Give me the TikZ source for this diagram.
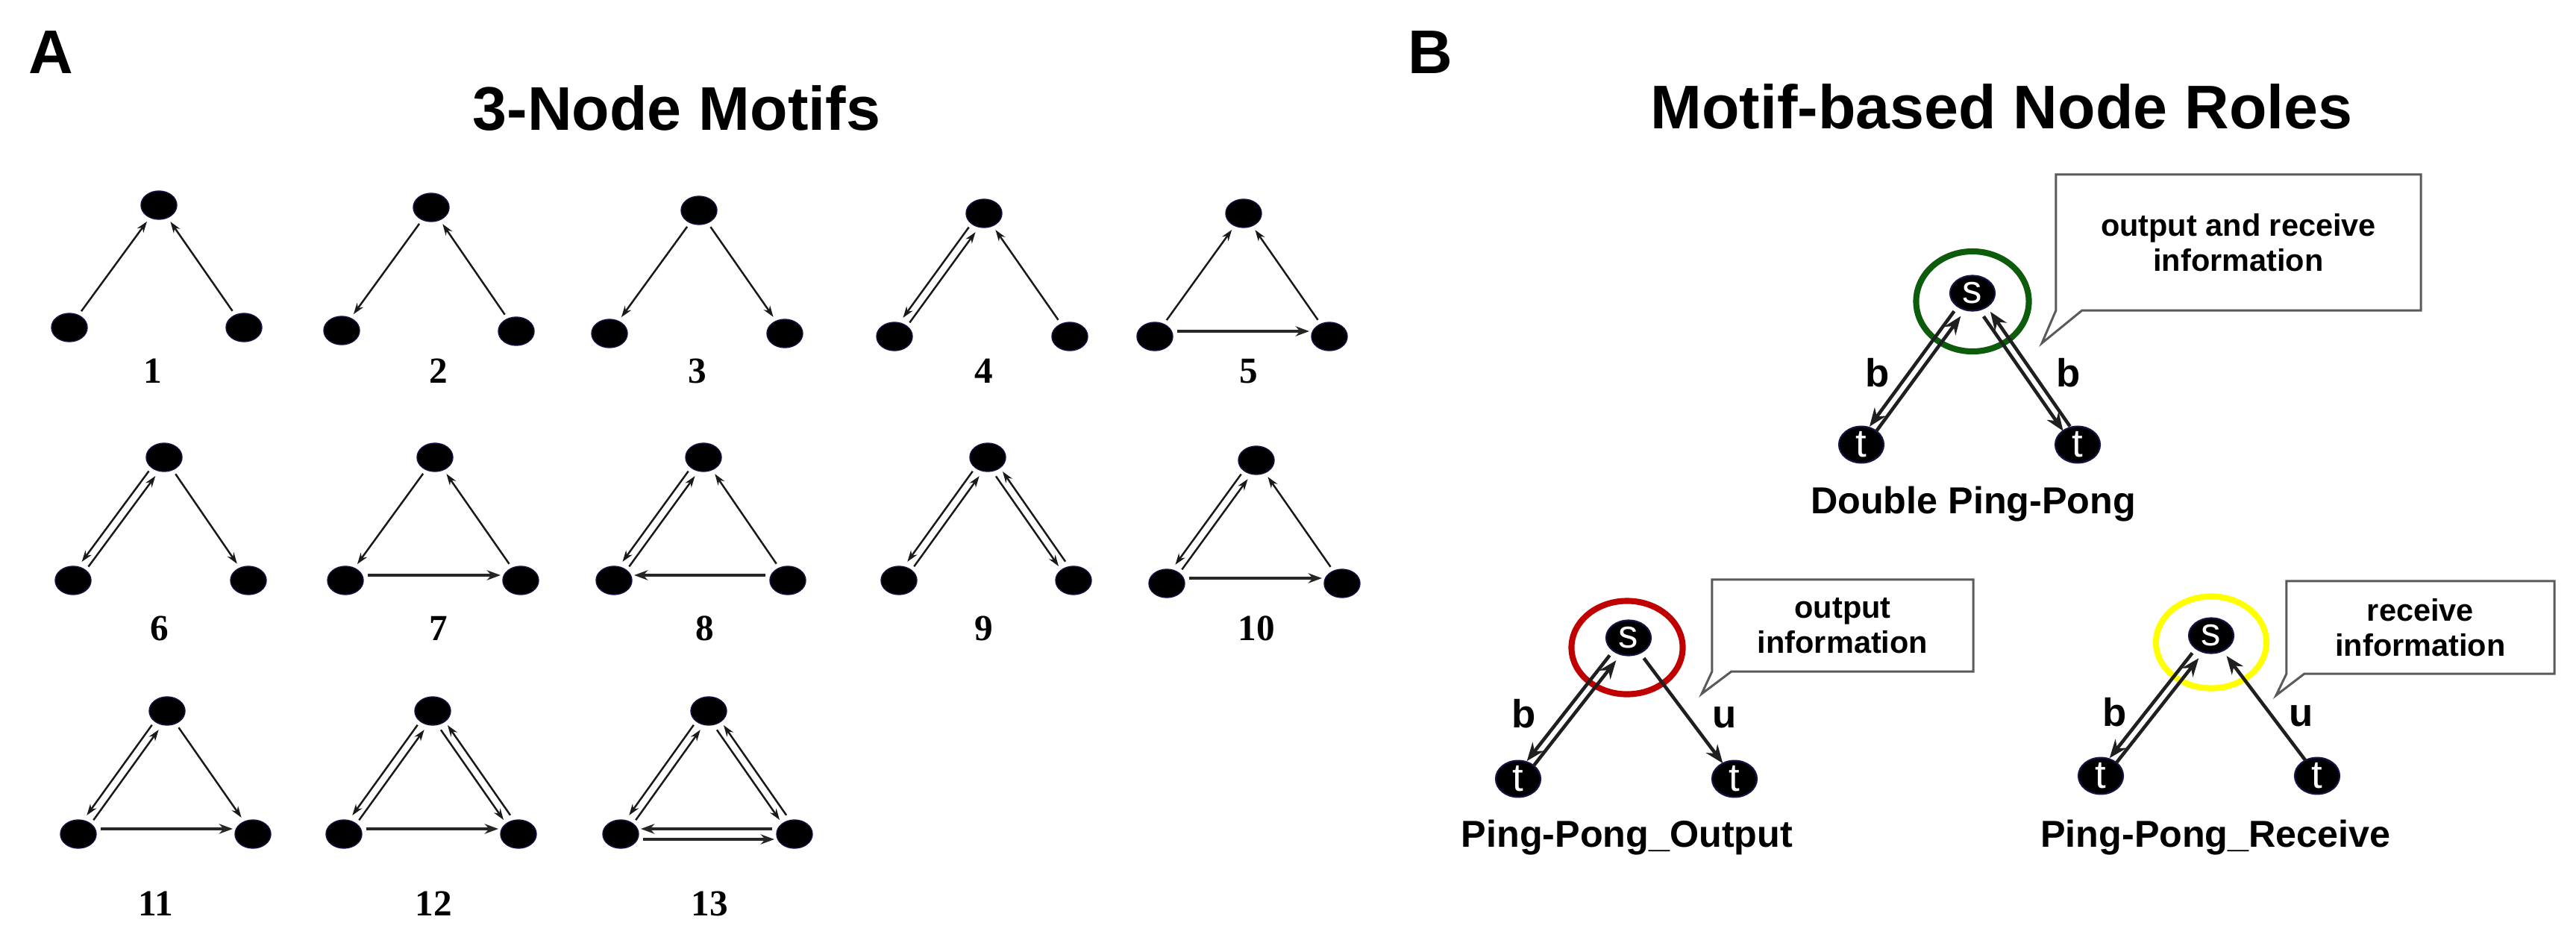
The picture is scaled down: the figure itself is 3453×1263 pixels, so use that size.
\documentclass[tikz,border=0pt]{standalone}
\usepackage{fontspec}
\setmainfont{Liberation Sans}
\newfontfamily\libserif{Liberation Serif}
\usetikzlibrary{calc,arrows.meta,shapes.geometric}
\definecolor{ringgreen}{RGB}{12,92,12}
\definecolor{ringred}{RGB}{192,0,0}
\definecolor{ringyellow}{RGB}{255,255,0}
\definecolor{nodeedge}{RGB}{20,20,70}
\definecolor{calloutgray}{RGB}{90,90,90}
% one line of a (possibly paired) edge, kept on the traveller's right
\newcommand\dline[4][medge]{\draw[#1] ($(#2)!#4!-90:(#3)$) -- ($(#3)!#4!90:(#2)$);}
\newcommand\mnodes[7]{%
  \node[mnode] (#1t) at (#2,#3) {};
  \node[mnode] (#1l) at (#4,#5) {};
  \node[mnode] (#1r) at (#6,#7) {};}
\tikzset{
  every node/.style={inner sep=0pt, outer sep=0pt},
  mnode/.style={ellipse, fill=black, draw=nodeedge, line width=0.4pt, minimum width=0.48cm, minimum height=0.38cm},
  pnode/.style={ellipse, fill=black, draw=nodeedge, line width=0.6pt, minimum width=0.60cm, minimum height=0.47cm, text=white, font=\fontsize{15}{15}\selectfont},
  medge/.style={line width=0.7pt, draw=black!90, -{Stealth[length=4.3pt,width=2.9pt]}, shorten <=0.27cm, shorten >=0.27cm},
  hedge/.style={line width=1.15pt, draw=black!85, -{Stealth[length=5.2pt,width=3.8pt]}, shorten <=0.30cm, shorten >=0.27cm},
  bedge/.style={line width=1.3pt, draw=black!88, -{Stealth[length=7pt,width=5.4pt]}},
  fromS/.style={shorten <=0.34cm, shorten >=0.26cm},
  toS/.style={shorten <=0.26cm, shorten >=0.34cm},
  ttl/.style={font=\bfseries\fontsize{23.5}{28}\selectfont},
  mnum/.style={anchor=base, font=\libserif\bfseries\fontsize{14}{14}\selectfont},
  elab/.style={anchor=base, font=\bfseries\fontsize{15}{15}\selectfont},
  capt/.style={anchor=base, font=\bfseries\fontsize{14.3}{16}\selectfont},
  ctext/.style={align=center, font=\bfseries\fontsize{11.8}{13.5}\selectfont},
  callout/.style={draw=calloutgray, line width=0.85pt, line join=miter},
  ring/.style={ellipse, line width=2.3pt},
}
\begin{document}
\begin{tikzpicture}[x=0.01cm,y=-0.01cm]
\useasboundingbox (0,0) rectangle (3453,1263);
\fill[white] (0,0) rectangle (3453,1263);

% ---------- titles ----------
\node[ttl, anchor=base west] (labA) at (38,98) {A};
\node[ttl, anchor=base] (titA) at (907,174) {3-Node Motifs};
\node[ttl, anchor=base west] (labB) at (1887,98) {B};
\node[ttl, anchor=base] (titB) at (2683,172) {Motif-based Node Roles};

% ---------- panel A : motif nodes ----------
\mnodes{m1}{213}{275}{93}{439}{327}{439}
\mnodes{m2}{578}{278}{458}{443}{692}{444}
\mnodes{m3}{937}{282}{817}{447}{1052}{447}
\mnodes{m4}{1319}{286}{1199}{451}{1434}{451}
\mnodes{m5}{1667}{286}{1548}{451}{1782}{451}
\mnodes{m6}{220}{613}{98}{778}{333}{778}
\mnodes{m7}{583}{613}{463}{778}{698}{778}
\mnodes{m8}{943}{613}{823}{778}{1056}{778}
\mnodes{m9}{1324}{613}{1205}{778}{1439}{778}
\mnodes{m10}{1684}{617}{1564}{782}{1799}{782}
\mnodes{m11}{224}{953}{105}{1118}{339}{1118}
\mnodes{m12}{580}{953}{461}{1118}{695}{1118}
\mnodes{m13}{950}{953}{832}{1118}{1065}{1118}

% motif numbers
\node[mnum] (n1) at (205,513) {1};
\node[mnum] (n2) at (588,513) {2};
\node[mnum] (n3) at (935,513) {3};
\node[mnum] (n4) at (1319,513) {4};
\node[mnum] (n5) at (1674,513) {5};
\node[mnum] (n6) at (214,858) {6};
\node[mnum] (n7) at (588,858) {7};
\node[mnum] (n8) at (945,858) {8};
\node[mnum] (n9) at (1319,858) {9};
\node[mnum] (n10) at (1684,858) {10};
\node[mnum] (n11) at (209,1227) {11};
\node[mnum] (n12) at (581,1227) {12};
\node[mnum] (n13) at (951,1227) {13};

% motif edges
% 1
\draw[medge] (m1l.center) -- (m1t.center);
\draw[medge] (m1r.center) -- (m1t.center);
% 2
\draw[medge] (m2t.center) -- (m2l.center);
\draw[medge] (m2r.center) -- (m2t.center);
% 3
\draw[medge] (m3t.center) -- (m3l.center);
\draw[medge] (m3t.center) -- (m3r.center);
% 4
\dline{m4t}{m4l}{0.055cm} \dline{m4l}{m4t}{0.055cm}
\draw[medge] (m4r.center) -- (m4t.center);
% 5
\draw[medge] (m5l.center) -- (m5t.center);
\draw[medge] (m5r.center) -- (m5t.center);
\draw[hedge] ($(m5l)+(0,-7)$) -- ($(m5r)+(0,-7)$);
% 6
\dline{m6t}{m6l}{0.055cm} \dline{m6l}{m6t}{0.055cm}
\draw[medge] (m6t.center) -- (m6r.center);
% 7
\draw[medge] (m7t.center) -- (m7l.center);
\draw[medge] (m7r.center) -- (m7t.center);
\draw[hedge] ($(m7l)+(0,-7)$) -- ($(m7r)+(0,-7)$);
% 8
\dline{m8t}{m8l}{0.055cm} \dline{m8l}{m8t}{0.055cm}
\draw[medge] (m8r.center) -- (m8t.center);
\draw[hedge] ($(m8r)+(0,-7)$) -- ($(m8l)+(0,-7)$);
% 9
\dline{m9t}{m9l}{0.055cm} \dline{m9l}{m9t}{0.055cm}
\dline{m9t}{m9r}{0.055cm} \dline{m9r}{m9t}{0.055cm}
% 10
\dline{m10t}{m10l}{0.055cm} \dline{m10l}{m10t}{0.055cm}
\draw[medge] (m10r.center) -- (m10t.center);
\draw[hedge] ($(m10l)+(0,-7)$) -- ($(m10r)+(0,-7)$);
% 11
\dline{m11t}{m11l}{0.055cm} \dline{m11l}{m11t}{0.055cm}
\draw[medge] (m11t.center) -- (m11r.center);
\draw[hedge] ($(m11l)+(0,-7)$) -- ($(m11r)+(0,-7)$);
% 12
\dline{m12t}{m12l}{0.055cm} \dline{m12l}{m12t}{0.055cm}
\dline{m12t}{m12r}{0.055cm} \dline{m12r}{m12t}{0.055cm}
\draw[hedge] ($(m12l)+(0,-7)$) -- ($(m12r)+(0,-7)$);
% 13
\dline{m13t}{m13l}{0.055cm} \dline{m13l}{m13t}{0.055cm}
\dline{m13t}{m13r}{0.055cm} \dline{m13r}{m13t}{0.055cm}
\dline[hedge]{m13l}{m13r}{0.07cm} \dline[hedge]{m13r}{m13l}{0.07cm}

% ---------- panel B ----------
% Double Ping-Pong
\node[ring, draw=ringgreen, minimum width=1.51cm, minimum height=1.34cm] (ring1) at (2644,404) {};
\node[pnode] (s1) at (2644,393) {s};
\node[pnode] (tl1) at (2495,596) {t};
\node[pnode] (tr1) at (2785,596) {t};
\dline[bedge,fromS]{s1}{tl1}{0.055cm} \dline[bedge,toS]{tl1}{s1}{0.055cm}
\dline[bedge,fromS]{s1}{tr1}{0.055cm} \dline[bedge,toS]{tr1}{s1}{0.055cm}
\node[elab] (b1a) at (2517,518) {b};
\node[elab] (b1b) at (2773,518) {b};
\node[capt] (cap1) at (2645,688) {Double Ping-Pong};
\node[ctext, minimum width=4.89cm, minimum height=1.82cm] (cb1) at (3000.5,325) {output and receive\\information};
\coordinate (tip1) at (2737,460);
\draw[callout] (cb1.north west) -- (cb1.south west) -- (tip1) -- ($(cb1.south west)+(35,0)$) -- (cb1.south east) -- (cb1.north east) -- cycle;

% Ping-Pong_Output
\node[ring, draw=ringred, minimum width=1.49cm, minimum height=1.25cm] (ring2) at (2181,868) {};
\node[pnode] (s2) at (2183,855) {s};
\node[pnode] (tl2) at (2035,1044) {t};
\node[pnode] (tr2) at (2325,1044) {t};
\dline[bedge,fromS]{s2}{tl2}{0.055cm} \dline[bedge,toS]{tl2}{s2}{0.055cm}
\draw[bedge,fromS] (s2.center) -- (tr2.center);
\node[elab] (b2) at (2043,975) {b};
\node[elab] (u2) at (2312,975) {u};
\node[capt] (cap2) at (2181,1135) {Ping-Pong\_Output};
\node[ctext, minimum width=3.50cm, minimum height=1.23cm] (cb2) at (2470,838.5) {output\\information};
\coordinate (tip2) at (2281,930);
\draw[callout] (cb2.north west) -- (cb2.south west) -- (tip2) -- ($(cb2.south west)+(26,0)$) -- (cb2.south east) -- (cb2.north east) -- cycle;

% Ping-Pong_Receive
\node[ring, draw=ringyellow, minimum width=1.48cm, minimum height=1.23cm] (ring3) at (2964,861) {};
\node[pnode] (s3) at (2964,852) {s};
\node[pnode] (tl3) at (2816,1040) {t};
\node[pnode] (tr3) at (3106,1040) {t};
\dline[bedge,fromS]{s3}{tl3}{0.055cm} \dline[bedge,toS]{tl3}{s3}{0.055cm}
\draw[bedge,toS] (tr3.center) -- (s3.center);
\node[elab] (b3) at (2835,973) {b};
\node[elab] (u3) at (3085,973) {u};
\node[capt] (cap3) at (2970,1135) {Ping-Pong\_Receive};
\node[ctext, minimum width=3.59cm, minimum height=1.24cm] (cb3) at (3244.5,841) {receive\\information};
\coordinate (tip3) at (3051,932);
\draw[callout] (cb3.north west) -- (cb3.south west) -- (tip3) -- ($(cb3.south west)+(24,0)$) -- (cb3.south east) -- (cb3.north east) -- cycle;
\end{tikzpicture}
\end{document}
